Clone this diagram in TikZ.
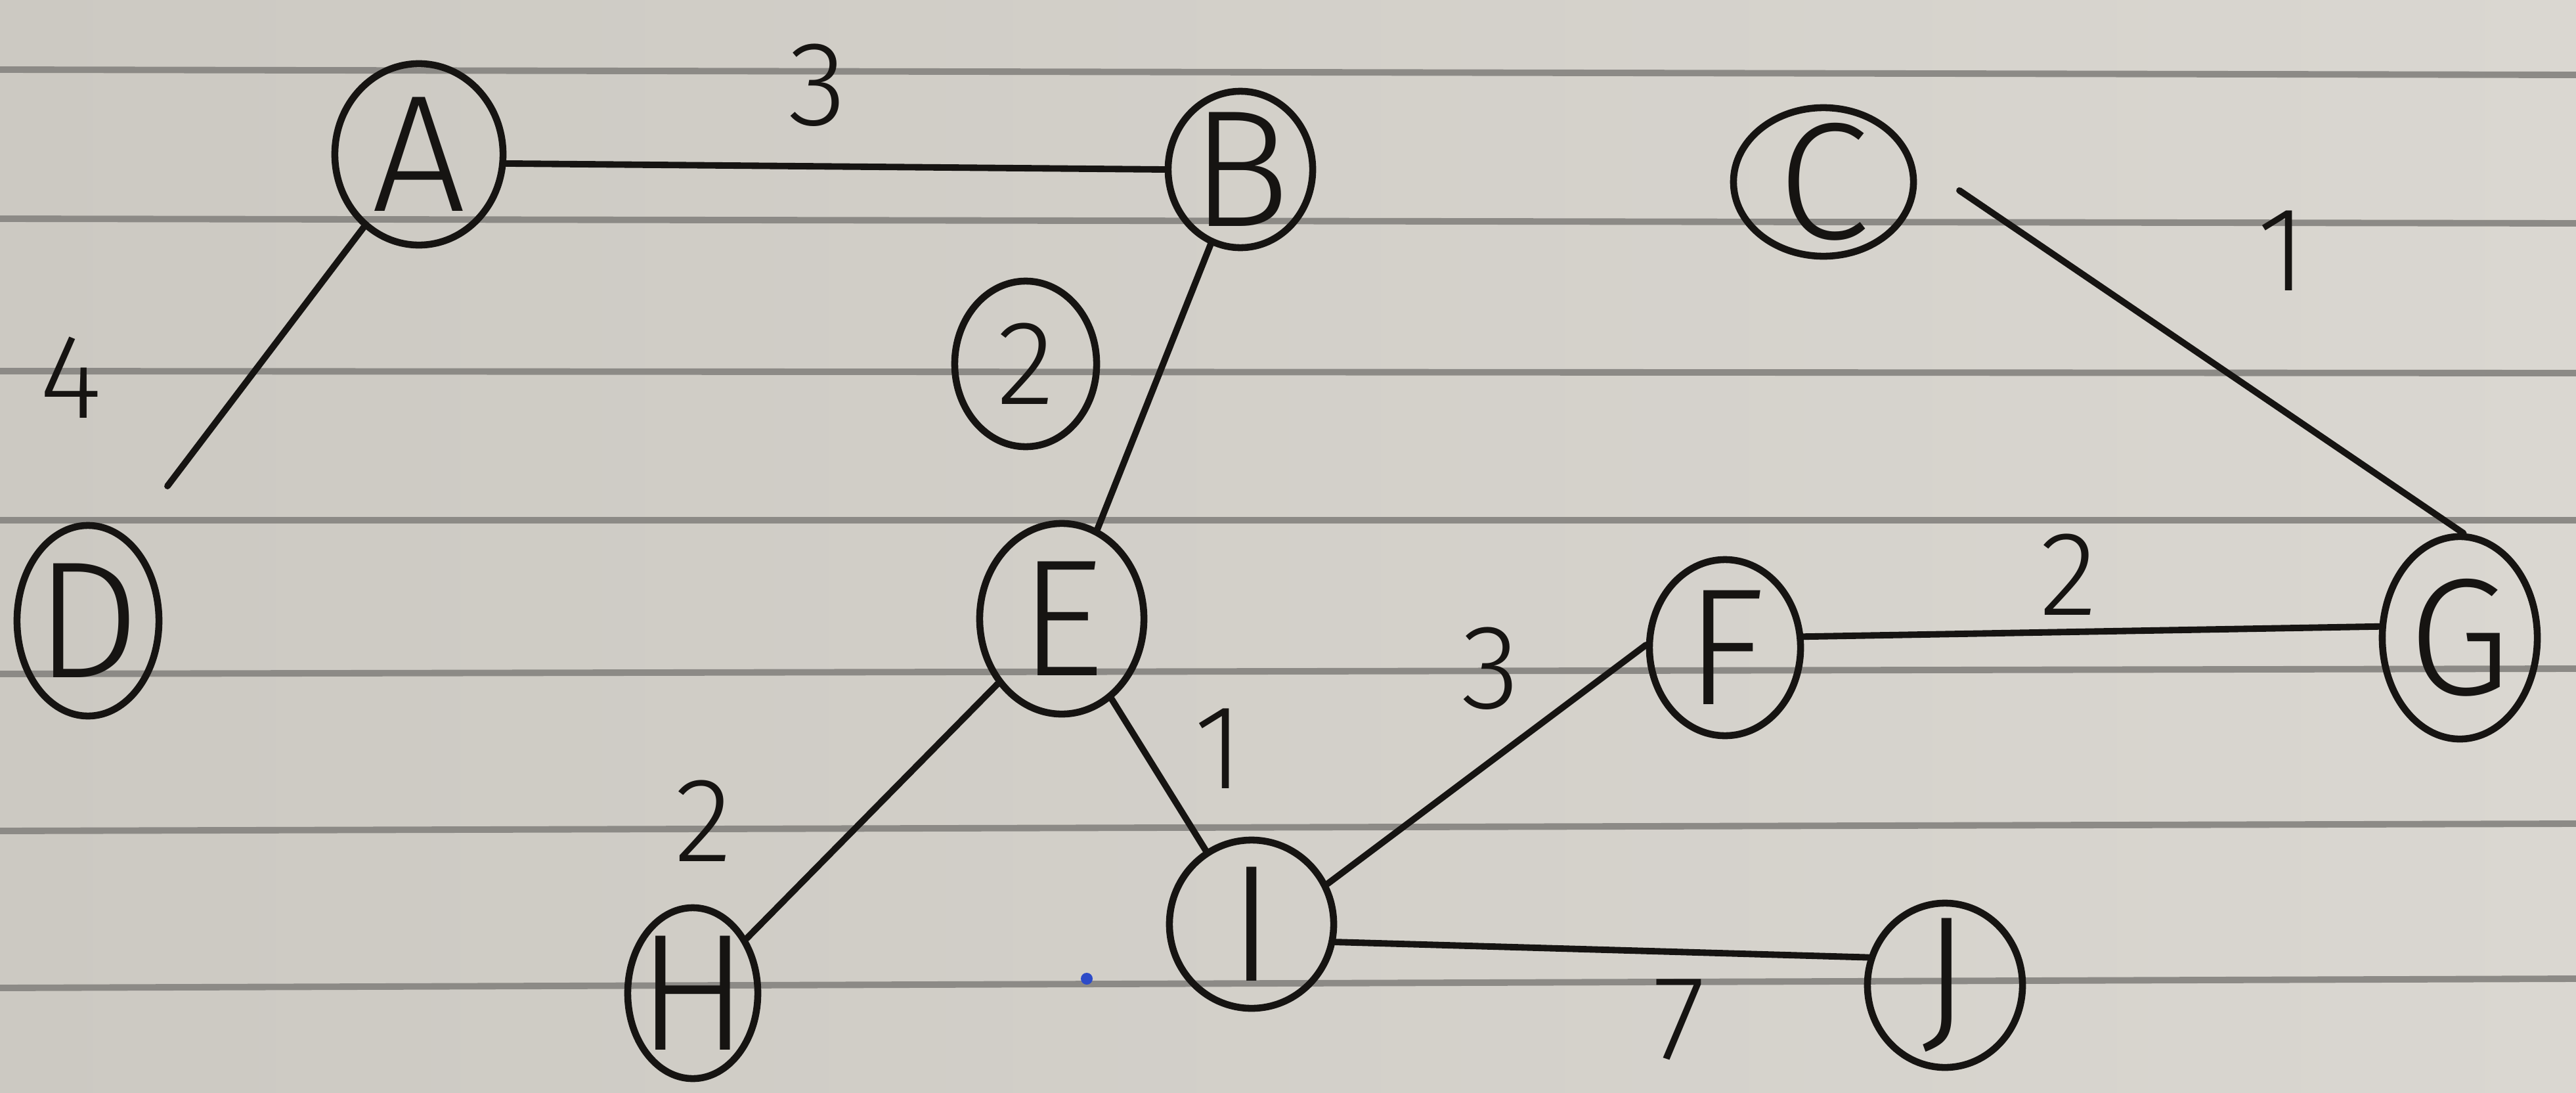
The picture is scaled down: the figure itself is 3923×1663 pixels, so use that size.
\documentclass[tikz,border=0pt]{standalone}
\usepackage{fontspec}
\setmainfont{Fira Sans}[UprightFont=* Light]
\usetikzlibrary{shapes.geometric}
\definecolor{paperL}{RGB}{204,201,194}
\definecolor{paperR}{RGB}{218,215,209}
\definecolor{ruling}{RGB}{140,138,134}
\definecolor{ink}{RGB}{22,20,18}
\definecolor{dotblue}{RGB}{45,75,200}
\begin{document}
\begin{tikzpicture}[x=0.01cm,y=-0.01cm,
  vtx/.style={ellipse, draw=ink, line width=3pt, inner sep=0pt,
    label={[font=\fontsize{72}{76}\selectfont, text=ink, inner sep=0pt]center:#1}},
  wt/.style={font=\fontsize{52}{56}\selectfont, text=ink, inner sep=0pt},
  link/.style={draw=ink, line width=2.8pt, line cap=round},
  ruleline/.style={draw=ruling, line width=2.8pt}]

% paper
\shade[left color=paperL, right color=paperR] (0,0) rectangle (3923,1663);
\useasboundingbox (0,0) rectangle (3923,1663);

% ruled lines
\foreach \yl/\yr in {106/114, 333/340, 565/568, 792/792, 1026/1018, 1265/1254, 1504/1490}
  \draw[ruleline] (0,\yl) -- (3923,\yr);

% vertices
\node[vtx=A, minimum width=2.56cm, minimum height=2.76cm] (A) at (638,235) {};
\node[vtx=B, minimum width=2.20cm, minimum height=2.38cm] (B) at (1889,258) {};
\node[vtx=C, minimum width=2.74cm, minimum height=2.26cm] (C) at (2777,277) {};
\node[vtx=D, minimum width=2.16cm, minimum height=2.90cm] (D) at (134,945) {};
\node[vtx=E, minimum width=2.50cm, minimum height=2.90cm] (E) at (1617,942) {};
\node[vtx=F, minimum width=2.30cm, minimum height=2.68cm] (F) at (2627,986) {};
\node[vtx=G, minimum width=2.36cm, minimum height=3.08cm] (G) at (3746,971) {};
\node[vtx=H, minimum width=1.98cm, minimum height=2.60cm] (H) at (1055,1512) {};
\node[vtx=I, minimum width=2.50cm, minimum height=2.56cm] (I) at (1906,1407) {};
\node[vtx=J, minimum width=2.36cm, minimum height=2.50cm] (J) at (2962,1500) {};

% circled weight beside B--E
\node[ellipse, draw=ink, line width=3pt, inner sep=0pt,
      minimum width=2.16cm, minimum height=2.52cm,
      label={[wt]center:2}] (w2c) at (1562,554) {};

% free ends of two strokes
\coordinate (dEnd) at (255,740);
\coordinate (cStart) at (2984,290);

% edges
\draw[link] (A.-6) -- (B.180);
\draw[link] (A) -- (dEnd);
\draw[link] (B) -- (E);
\draw[link] (cStart) -- (G.88);
\draw[link] (G.172) -- (F.8);
\draw[link] (E) -- (H);
\draw[link] (E) -- (I);
\draw[link] (I.28) -- (F.178);
\draw[link] (I.-12) -- (J.160);

% weights
\node[wt] (w3a) at (1245,130) {3};
\node[wt] (w4) at (108,575) {4};
\node[wt] (w1c) at (3475,382) {1};
\node[wt] (w2fg) at (3150,875) {2};
\node[wt] (w3fi) at (2270,1018) {3};
\node[wt] (w2eh) at (1071,1250) {2};
\node[wt] (w1ei) at (1856,1140) {1};
\node[wt] (w7) at (2557,1552) {7};

% stray ink dot
\fill[dotblue] (1655,1490) circle (9);
\end{tikzpicture}
\end{document}
